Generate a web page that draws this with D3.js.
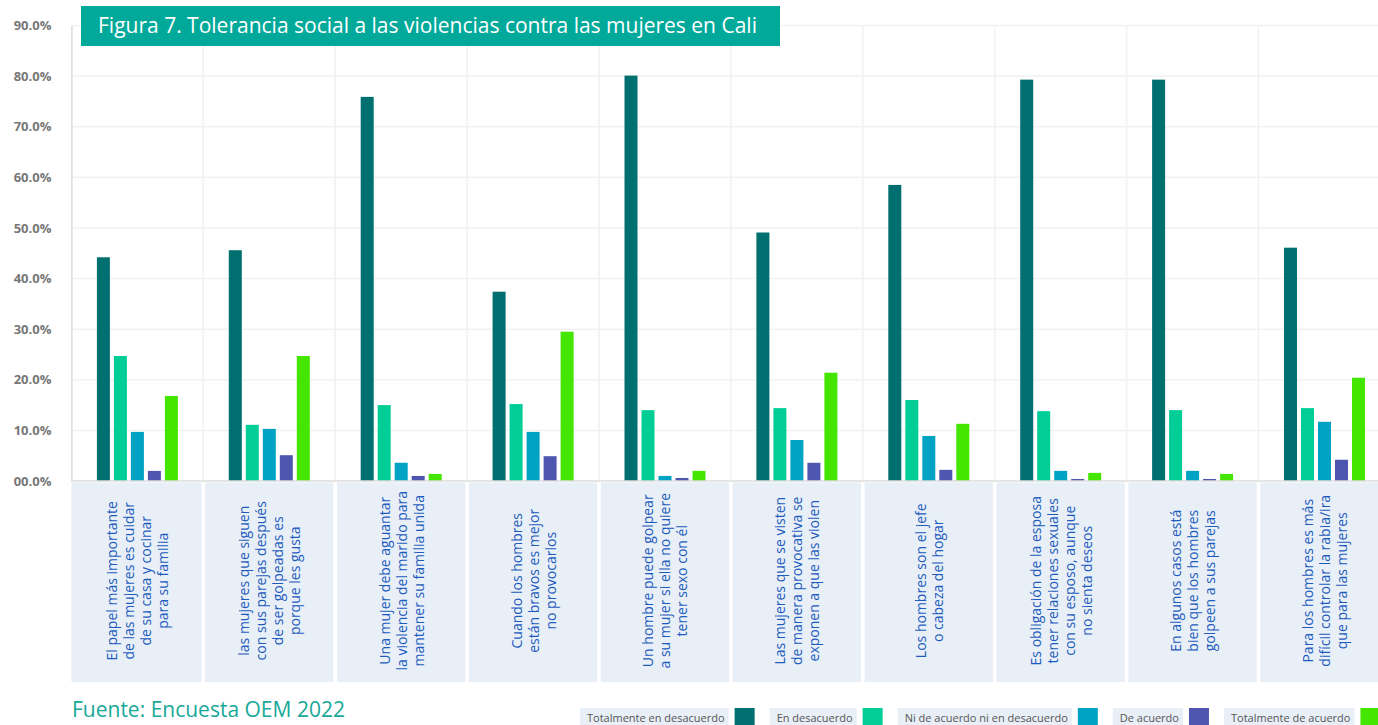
<!DOCTYPE html>
<html>
<head>
<meta charset="utf-8">
<script src="https://cdn.jsdelivr.net/npm/d3@7"></script>
<style>
  body { margin: 0; background: #fff; overflow: hidden; }
  svg { display: block; font-family: "Open Sans", sans-serif; }
</style>
</head>
<body>
<div id="chart"></div>
<script>
// data
var categories = [
  ["El papel más importante", "de las mujeres es cuidar", "de su casa y cocinar", "para su familia"],
  ["las mujeres que siguen", "con sus parejas después", "de ser golpeadas es", "porque les gusta"],
  ["Una mujer debe aguantar", "la violencia del marido para", "mantener su familia unida"],
  ["Cuando los hombres", "están bravos es mejor", "no provocarlos"],
  ["Un hombre puede golpear", "a su mujer si ella no quiere", "tener sexo con él"],
  ["Las mujeres que se visten", "de manera provocativa se", "exponen a que las violen"],
  ["Los hombres son el jefe", "o cabeza del hogar"],
  ["Es obligación de la esposa", "tener relaciones sexuales", "con su esposo, aunque", "no sienta deseos"],
  ["En algunos casos está", "bien que los hombres", "golpeen a sus parejas"],
  ["Para los hombres es más", "difícil controlar la rabia/ira", "que para las mujeres"]
];
var seriesNames = ["Totalmente en desacuerdo", "En desacuerdo", "Ni de acuerdo ni en desacuerdo", "De acuerdo", "Totalmente de acuerdo"];
var seriesColors = ["#006f70", "#00ce96", "#00a3c4", "#4f56b0", "#44e600"];

var totalDesacuerdo = [44.2, 45.6, 75.9, 37.4, 80.1, 49.1, 58.5, 79.3, 79.3, 46.1];
var enDesacuerdo    = [24.7, 11.1, 15.0, 15.2, 14.0, 14.4, 16.0, 13.8, 14.0, 14.4];
var niAcuerdoNi     = [9.7, 10.3, 3.6, 9.7, 1.0, 8.1, 8.9, 2.0, 2.0, 11.7];
var deAcuerdo       = [2.0, 5.1, 1.0, 4.9, 0.6, 3.6, 2.2, 0.4, 0.4, 4.2];
var totalAcuerdo    = [16.8, 24.7, 1.4, 29.5, 2.0, 21.4, 11.3, 1.6, 1.4, 20.4];

var yTicks = [0, 10, 20, 30, 40, 50, 60, 70, 80, 90];

var seriesValues = [totalDesacuerdo, enDesacuerdo, niAcuerdoNi, deAcuerdo, totalAcuerdo];

var width = 1378, height = 725;
var margin = {top: 25.5, left: 71.4, right: 1390.4, bottom: 481};

var svg = d3.select("#chart").append("svg")
  .attr("width", width)
  .attr("height", height);

var x0 = d3.scaleBand()
  .domain(d3.range(categories.length))
  .range([margin.left, margin.right]);

var x1 = d3.scaleBand()
  .domain(d3.range(seriesNames.length))
  .range([25.5, 106.5])
  .paddingInner(4 / 17);

var y = d3.scaleLinear()
  .domain([0, 90])
  .range([margin.bottom, margin.top]);

// grid
svg.append("g")
  .selectAll("line")
  .data(yTicks.slice(1))
  .join("line")
  .attr("x1", margin.left).attr("x2", margin.right)
  .attr("y1", d => y(d)).attr("y2", d => y(d))
  .attr("stroke", "#f1f1f1").attr("stroke-width", 1.5);

svg.append("g")
  .selectAll("line")
  .data(d3.range(1, categories.length + 1))
  .join("line")
  .attr("x1", i => x0(0) + i * x0.step()).attr("x2", i => x0(0) + i * x0.step())
  .attr("y1", margin.top).attr("y2", margin.bottom)
  .attr("stroke", "#f1f1f1").attr("stroke-width", 1.5);

// y axis
var yAxis = d3.axisLeft(y)
  .tickValues(yTicks)
  .tickSize(0)
  .tickPadding(20)
  .tickFormat(d => d3.format("04.1f")(d) + "%");

svg.append("g")
  .attr("transform", `translate(${margin.left},0)`)
  .call(yAxis)
  .call(g => g.select(".domain").attr("stroke", "#dcdcdc").attr("stroke-width", 1.5))
  .call(g => g.selectAll("text")
    .attr("fill", "#777")
    .style("font-size", "13px")
    .style("font-weight", "bold")
    .style("font-family", "'Open Sans', sans-serif"));

// bars
var groups = svg.append("g")
  .selectAll("g")
  .data(categories)
  .join("g")
  .attr("transform", (d, i) => `translate(${x0(i)},0)`);

groups.selectAll("rect")
  .data((d, i) => seriesValues.map((s, k) => ({k: k, value: s[i]})))
  .join("rect")
  .attr("x", d => x1(d.k))
  .attr("width", x1.bandwidth())
  .attr("y", d => y(d.value))
  .attr("height", d => y(0) - y(d.value))
  .attr("fill", d => seriesColors[d.k]);

// baseline
svg.append("line")
  .attr("x1", margin.left).attr("x2", margin.right)
  .attr("y1", margin.bottom).attr("y2", margin.bottom)
  .attr("stroke", "#dcdcdc").attr("stroke-width", 1.5);

// category label bands
var labelTop = 482.5, labelBottom = 682;
var bands = svg.append("g")
  .selectAll("g")
  .data(categories)
  .join("g")
  .attr("transform", (d, i) => `translate(${x0(i)},0)`);

bands.append("rect")
  .attr("x", (d, i) => i == 0 ? 0 : 1.8)
  .attr("width", (d, i) => i == 0 ? x0.bandwidth() - 1.8 : x0.bandwidth() - 3.6)
  .attr("y", labelTop)
  .attr("height", labelBottom - labelTop)
  .attr("fill", "#e8eff7");

bands.each(function(lines) {
  var cx = x0.bandwidth() / 2;
  var cy = (labelTop + labelBottom) / 2 - 1.5;
  d3.select(this).selectAll("text")
    .data(lines)
    .join("text")
    .attr("transform", (d, j) => `translate(${cx + (j - (lines.length - 1) / 2) * 17},${cy}) rotate(-90)`)
    .attr("text-anchor", "middle")
    .attr("dominant-baseline", "central")
    .attr("fill", "#1d5bbd")
    .style("font-size", "14px")
    .text(d => d);
});

// title box
svg.append("rect")
  .attr("x", 81).attr("y", 6)
  .attr("width", 699).attr("height", 40)
  .attr("fill", "#00a99a");

svg.append("text")
  .attr("x", 98).attr("y", 33)
  .attr("fill", "#fff")
  .style("font-size", "21px")
  .text("Figura 7. Tolerancia social a las violencias contra las mujeres en Cali");

// source
svg.append("text")
  .attr("x", 72).attr("y", 717)
  .attr("fill", "#17a898")
  .style("font-size", "21px")
  .text("Fuente: Encuesta OEM 2022");

// legend
var legend = svg.append("g");
var lx = 580;
seriesNames.forEach(function(name, k) {
  var item = legend.append("g").attr("transform", `translate(${lx},708)`);
  var box = item.append("rect").attr("y", 0).attr("height", 20).attr("fill", "#e8eff7");
  var t = item.append("text")
    .attr("x", 7).attr("y", 14)
    .attr("fill", "#555")
    .style("font-size", "11px")
    .text(name);
  var tw = t.node().getComputedTextLength();
  box.attr("width", tw + 11);
  item.append("rect")
    .attr("x", tw + 17).attr("y", 0)
    .attr("width", 20).attr("height", 20)
    .attr("fill", seriesColors[k]);
  lx += tw + 17 + 20 + 15;
});
</script>
</body>
</html>
